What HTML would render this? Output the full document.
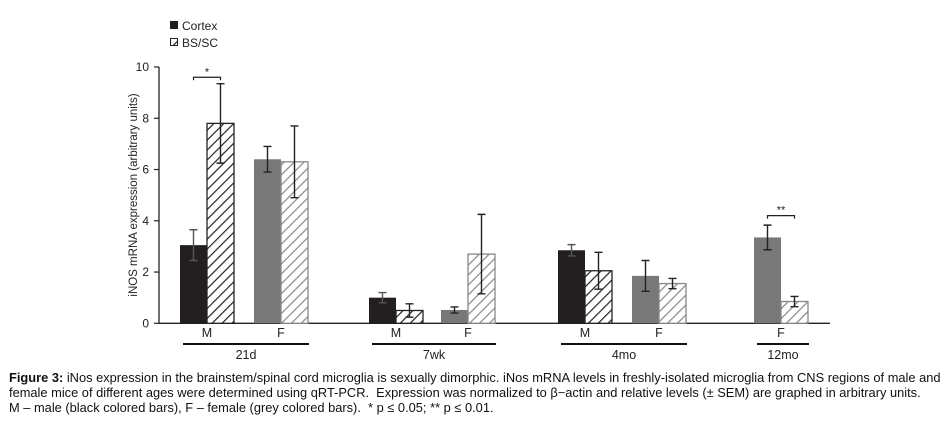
<!DOCTYPE html>
<html><head><meta charset="utf-8">
<style>
body{margin:0;background:#fff;width:949px;height:431px;overflow:hidden;font-family:"Liberation Sans",Arial,sans-serif;}
#cap{position:absolute;left:9px;top:370px;font-size:12.85px;line-height:15px;color:#111;white-space:nowrap;}
</style></head>
<body>
<svg id="chart" width="949" height="365" style="position:absolute;left:0;top:0" font-family="Liberation Sans, Arial, sans-serif">
<defs>
<pattern id="hb" patternUnits="userSpaceOnUse" width="7" height="7" patternTransform="rotate(45)"><rect width="7" height="7" fill="#fff"/><line x1="0" y1="0" x2="0" y2="7" stroke="#222" stroke-width="2.4"/></pattern>
<pattern id="hg" patternUnits="userSpaceOnUse" width="7" height="7" patternTransform="rotate(45)"><rect width="7" height="7" fill="#fff"/><line x1="0" y1="0" x2="0" y2="7" stroke="#888" stroke-width="2.4"/></pattern>
</defs>
<g id="g"></g>
</svg>
<div id="cap"><b>Figure 3:</b> iNos expression in the brainstem/spinal cord microglia is sexually dimorphic. iNos mRNA levels in freshly-isolated microglia from CNS regions of male and<br>female mice of different ages were determined using qRT-PCR.&nbsp; Expression was normalized to β−actin and relative levels (± SEM) are graphed in arbitrary units.<br>M – male (black colored bars), F – female (grey colored bars).&nbsp; * p ≤ 0.05; ** p ≤ 0.01.</div>
<script>
const groups=["21d","7wk","4mo","12mo"];
const subLabels=["M","F","M","F","M","F","F"];
const subGroup=[0,0,1,1,2,2,3];
const subSex=["M","F","M","F","M","F","F"];
const cortexVals=[3.05,6.4,1.0,0.52,2.85,1.85,3.35];
const cortexErr=[0.6,0.5,0.2,0.12,0.22,0.6,0.48];
const bsscVals=[7.8,6.3,0.5,2.7,2.05,1.55,0.85];
const bsscErr=[1.55,1.4,0.26,1.55,0.72,0.2,0.2];
const yTicks=[0,2,4,6,8,10];
const subX=[180,254,369,441,558,632,754];

const NS="http://www.w3.org/2000/svg";
const g=document.getElementById('g');
const y=v=>323.3-v*25.63;
function el(t,a,txt){const e=document.createElementNS(NS,t);for(const k in a)e.setAttribute(k,a[k]);if(txt!==undefined)e.textContent=txt;g.appendChild(e);return e;}
const bw=27;
let ax=el('line',{x1:159,y1:y(10),x2:159,y2:y(0),stroke:'#222','stroke-width':1.3});


let xa=el('line',{x1:159,y1:y(0),x2:830,y2:y(0),stroke:'#222','stroke-width':1.3});


yTicks.forEach(t=>{
  let tk=el('line',{x1:154,y1:y(t),x2:159,y2:y(t),stroke:'#222','stroke-width':1.2});
  
  
  let tl=el('text',{x:149,y:y(t)+4,'text-anchor':'end','font-size':12,fill:'#222'},t);
  
  
});
let yt=el('text',{x:0,y:0,transform:'translate(137,195) rotate(-90)','text-anchor':'middle','font-size':11.5,fill:'#222'},'iNOS mRNA expression (arbitrary units)');


function err(cx,v,e,col){
  const p=el('path',{d:`M${cx-4},${y(v+e)}H${cx+4}M${cx},${y(v+e)}V${y(v-e)}M${cx-4},${y(v-e)}H${cx+4}`,stroke:col,'stroke-width':1.4,fill:'none'});
  
  
}
subX.forEach((x0,i)=>{
  const male=subSex[i]==="M";
  let c=el('rect',{x:x0,y:y(cortexVals[i]),width:bw,height:y(0)-y(cortexVals[i]),fill:male?'#231f20':'#787878'});
  
  
  let b=el('rect',{x:x0+bw,y:y(bsscVals[i]),width:bw,height:y(0)-y(bsscVals[i]),fill:male?'url(#hb)':'url(#hg)',stroke:male?'#222':'#888','stroke-width':1.3});
  
  
  err(x0+bw/2,cortexVals[i],cortexErr[i],male?'#555':'#222');
  err(x0+bw*1.5,bsscVals[i],bsscErr[i],'#222');
  let sl=el('text',{x:x0+bw,y:337,'text-anchor':'middle','font-size':12.5,fill:'#222'},subLabels[i]);
  
  
});
groups.forEach((gname,gi)=>{
  const idx=subGroup.map((s,i)=>s===gi?i:-1).filter(i=>i>=0);
  const x1=subX[idx[0]]+3, x2=subX[idx[idx.length-1]]+2*bw+1;
  let ln=el('line',{x1:x1,y1:344,x2:x2,y2:344,stroke:'#111','stroke-width':2});
  
  
  let gl=el('text',{x:(x1+x2)/2,y:359,'text-anchor':'middle','font-size':12.5,fill:'#222'},gname);
  
  
});
function sig(i,v,txt){
  const x1=subX[i]+bw/2, x2=subX[i]+bw*1.5;
  const p=el('path',{d:`M${x1},${y(v)+3}V${y(v)}H${x2}V${y(v)+3}`,stroke:'#222','stroke-width':1.2,fill:'none'});
  
  
  const t=el('text',{x:(x1+x2)/2,y:y(v)-2,'text-anchor':'middle','font-size':11,fill:'#222'},txt);
  
  
}
sig(0,9.6,'*');
sig(6,4.2,'**');
let l1=el('rect',{x:170,y:21,width:8,height:8,fill:'#231f20'});


let t1=el('text',{x:182,y:30,'font-size':12,fill:'#222'},'Cortex');


let l2=el('rect',{x:170.5,y:38.5,width:7,height:7,fill:'url(#hb)',stroke:'#222','stroke-width':1});


let t2=el('text',{x:182,y:47,'font-size':12,fill:'#222'},'BS/SC');


</script>
</body></html>
